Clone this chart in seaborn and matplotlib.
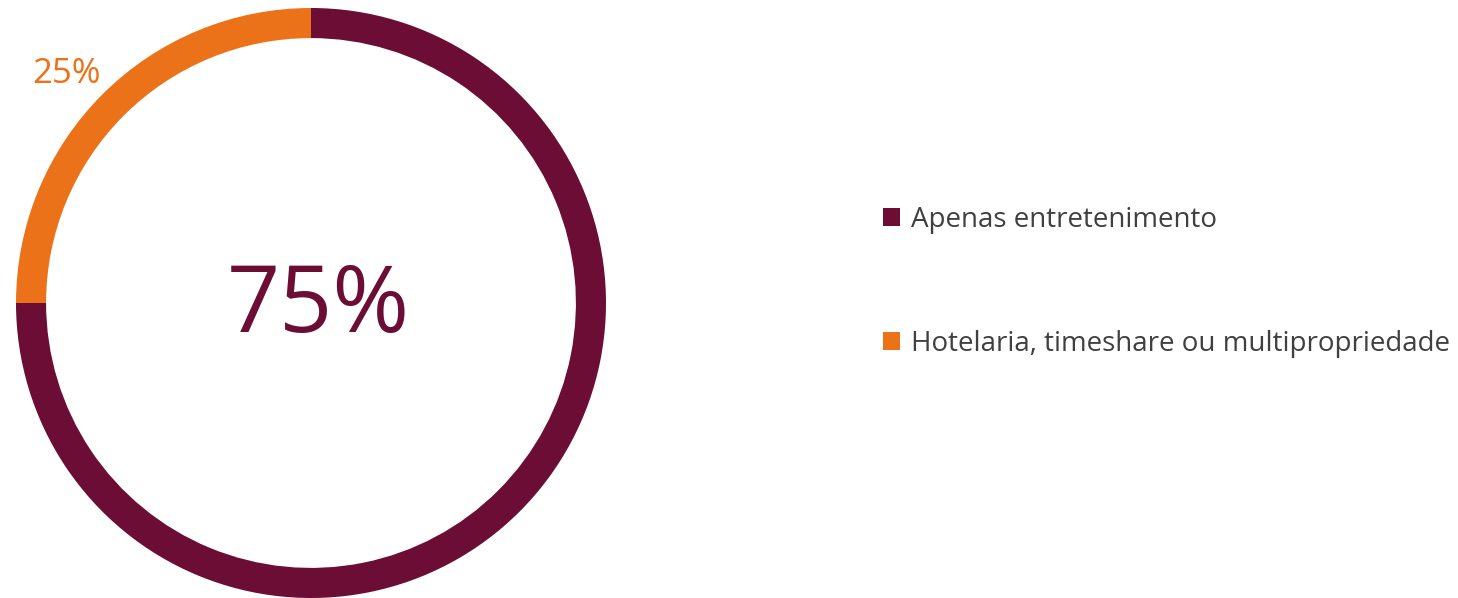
import matplotlib
matplotlib.use("Agg")
import matplotlib.pyplot as plt
import seaborn as sns

categories = ["Apenas entretenimento", "Hotelaria, timeshare ou multipropriedade"]
values = [75, 25]
colors = ["#6B0D35", "#EC7219"]

sns.set_theme(style="white")
plt.rcParams["font.family"] = ["Open Sans", "DejaVu Sans"]
palette = sns.color_palette(colors)

W, H = 1458, 598
fig = plt.figure(figsize=(W / 100, H / 100), dpi=100)
ax = fig.add_axes([16 / W, 0 / H, 590 / W, 590 / H])

wedges, _ = ax.pie(
    values,
    colors=palette,
    startangle=90,
    counterclock=False,
    radius=1.0,
    wedgeprops=dict(width=0.102, edgecolor="none"),
)
ax.set_xlim(-1, 1)
ax.set_ylim(-1, 1)
ax.set_aspect("equal")
ax.axis("off")

# central value of the main share
ax.text(0.025, -0.015, f"{values[0]}%", ha="center", va="center",
        fontsize=67, color=colors[0])
# outer label of the smaller share
ax.text(-0.83, 0.775, f"{values[1]}%", ha="center", va="center",
        fontsize=25, color=colors[1])

fig.legend(
    wedges, categories,
    loc="center left",
    bbox_to_anchor=(858 / W, 1 - 282 / H),
    frameon=False,
    fontsize=20,
    labelcolor="#404040",
    handlelength=0.6,
    handleheight=0.6,
    handletextpad=0.4,
    labelspacing=3.45,
)

fig.savefig("out.png", dpi=100)
